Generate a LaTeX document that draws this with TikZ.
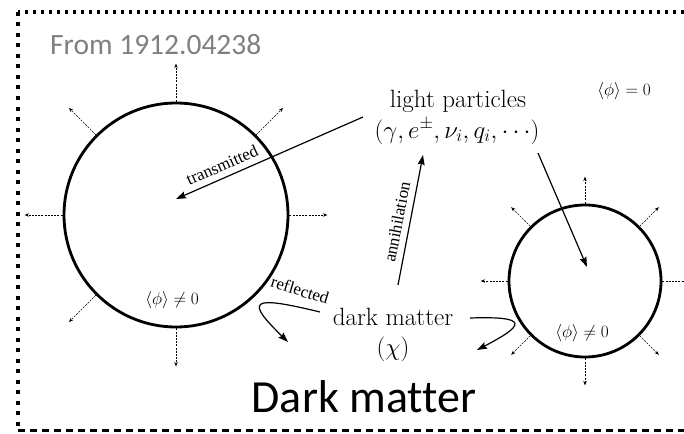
\documentclass[tikz,border=0pt]{standalone}
\usepackage{fontspec}
\newfontfamily\calibri[Ligatures=NoCommon]{Carlito}
\newfontfamily\timesf{Liberation Serif}
\usetikzlibrary{arrows.meta,calc}
\begin{document}
\begin{tikzpicture}[x=1pt,y=-1pt,
  radial/.style={line width=0.6pt, dash pattern=on 2pt off 1.2pt, -{Stealth[length=4.5pt,width=3.5pt]}},
  solidarrow/.style={line width=1.2pt, -{Stealth[length=10pt,width=7pt,inset=1.5pt]}},
  bubble/.style={circle, draw, line width=2.8pt, inner sep=0pt},
  lab/.style={font=\timesf\fontsize{17}{17}\selectfont, inner sep=0pt},
  big/.style={font=\fontsize{25}{28}\selectfont, inner sep=0pt},
  vev/.style={font=\fontsize{17}{17}\selectfont, inner sep=0pt}]
\useasboundingbox (0,0) rectangle (684,433);
% frame (top, left, bottom)
\draw[line width=3.5pt, dash pattern=on 3.5pt off 4.5pt] (684,12) -- (18,12);
\draw[line width=3.5pt, dash pattern=on 4pt off 6.5pt] (18,12) -- (18,430);
\draw[line width=3pt, dash pattern=on 7pt off 5pt] (18,430) -- (684,430);
% texts
\node[anchor=base west, inner sep=0pt, text=black!50] (src) at (50,55) {\calibri\fontsize{29.5}{30}\selectfont From 1912.04238};
\node[anchor=base, inner sep=0pt] (title) at (364,412) {\calibri\fontsize{46}{48}\selectfont Dark matter};
\node[big, anchor=base] (lp1) at (458,107) {light particles};
\node[big, anchor=base] (lp2) at (457,138) {$(\gamma, e^{\pm}, \nu_i, q_i, \cdots)$};
\node[big, anchor=base] (dm) at (393,325) {dark matter};
\node[big] (chi) at (393,349) {$(\chi)$};
% bubbles
\node[bubble, minimum size=224pt] (L) at (176,215) {};
\node[bubble, minimum size=152pt] (R) at (585,281) {};
\node[vev] (v1) at (172,300) {$\langle\phi\rangle \neq 0$};
\node[vev] (v2) at (582,333) {$\langle\phi\rangle \neq 0$};
\node[vev] (v0) at (624,91) {$\langle\phi\rangle = 0$};
\foreach \a in {0,45,90,135,180,225,270}
  \draw[radial] (L.\a) -- ++({38*cos(\a)},{-38*sin(\a)});
\foreach \a in {0,45,...,315}
  \draw[radial] (R.\a) -- ++({27*cos(\a)},{-27*sin(\a)});
% transmitted
\coordinate (tS) at (363,117);
\coordinate (tE) at (176,199);
\draw[solidarrow] (tS) -- (tE);
\node[lab, rotate=24] (tlab) at (222,165) {transmitted};
% annihilation
\coordinate (aS) at (398,285);
\coordinate (aE) at (423,155);
\draw[solidarrow] (aS) -- (aE);
\node[lab, rotate=79] (alab) at (397,222) {annihilation};
% light particles into right bubble
\coordinate (pS) at (538,153);
\coordinate (pE) at (587,267);
\draw[solidarrow] (pS) -- (pE);
% reflected
\coordinate (rS) at (320,312);
\coordinate (rE) at (288,342);
\draw[solidarrow] (rS) .. controls (250,295) and (245,300) .. (rE);
\node[lab, rotate=-17] (rlab) at (300,290) {reflected};
% dark matter towards right bubble
\coordinate (qS) at (470,318);
\coordinate (qE) at (477,350);
\draw[solidarrow] (qS) .. controls (530,316) and (525,325) .. (qE);
\end{tikzpicture}
\end{document}
